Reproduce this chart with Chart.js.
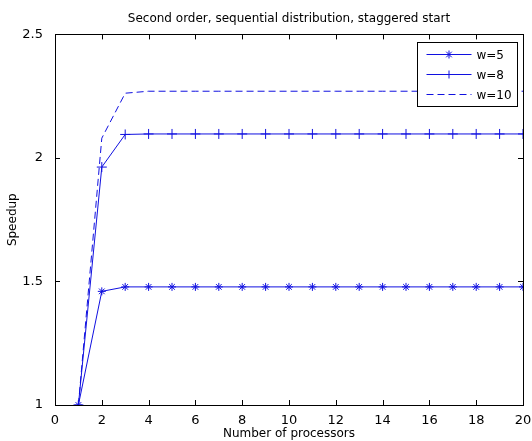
<!DOCTYPE html>
<html>
<head>
<meta charset="utf-8">
<script src="https://cdn.jsdelivr.net/npm/chart.js@4/dist/chart.umd.min.js"></script>
<style>
  html, body { margin: 0; padding: 0; background: #fff; }
  #wrap { width: 532px; height: 441px; }
</style>
</head>
<body>
<div id="wrap"><canvas id="speedup"></canvas></div>
<script>
// Data
const processors = [1, 2, 3, 4, 5, 6, 7, 8, 9, 10, 11, 12, 13, 14, 15, 16, 17, 18, 19, 20];
const w5  = [1, 1.46, 1.478, 1.478, 1.478, 1.478, 1.478, 1.478, 1.478, 1.478, 1.478, 1.478, 1.478, 1.478, 1.478, 1.478, 1.478, 1.478, 1.478, 1.478];
const w8  = [1, 1.963, 2.095, 2.097, 2.097, 2.097, 2.097, 2.097, 2.097, 2.097, 2.097, 2.097, 2.097, 2.097, 2.097, 2.097, 2.097, 2.097, 2.097, 2.097];
const w10 = [1, 2.08, 2.262, 2.27, 2.27, 2.27, 2.27, 2.27, 2.27, 2.27, 2.27, 2.27, 2.27, 2.27, 2.27, 2.27, 2.27, 2.27, 2.27, 2.27];
const xTicks = [0, 2, 4, 6, 8, 10, 12, 14, 16, 18, 20];
const yTicks = [1, 1.5, 2, 2.5];

const lineColor = '#1010e0';
const fontFamily = '"DejaVu Sans", Verdana, sans-serif';

function toPoints(ys) {
    return processors.map(function(x, i) { return { x: x, y: ys[i] }; });
}

// MATLAB-style box with inward ticks, plus the boxed legend
const matlabFrame = {
    id: 'matlabFrame',
    afterDatasetsDraw: function(chart) {
        const ctx = chart.ctx;
        const a = chart.chartArea;
        const xs = chart.scales.x, ys = chart.scales.y;
        ctx.save();
        ctx.strokeStyle = '#000';
        ctx.lineWidth = 1;
        ctx.strokeRect(Math.round(a.left) + 0.5, Math.round(a.top) + 0.5,
                       Math.round(a.right - a.left), Math.round(a.bottom - a.top));
        ctx.beginPath();
        xTicks.forEach(function(v) {
            const px = Math.round(xs.getPixelForValue(v)) + 0.5;
            ctx.moveTo(px, a.bottom); ctx.lineTo(px, a.bottom - 5);
            ctx.moveTo(px, a.top); ctx.lineTo(px, a.top + 5);
        });
        yTicks.forEach(function(v) {
            const py = Math.round(ys.getPixelForValue(v)) + 0.5;
            ctx.moveTo(a.left, py); ctx.lineTo(a.left + 5, py);
            ctx.moveTo(a.right, py); ctx.lineTo(a.right - 5, py);
        });
        ctx.stroke();

        // legend, anchored to the top right corner of the axes
        const bw = 100, bh = 64;
        const bx = Math.round(a.right) - 6 - bw + 0.5, by = Math.round(a.top) + 8.5;
        ctx.fillStyle = '#fff';
        ctx.fillRect(bx, by, bw, bh);
        ctx.strokeStyle = '#000';
        ctx.strokeRect(bx, by, bw, bh);
        ctx.font = '12px ' + fontFamily;
        ctx.textBaseline = 'middle';
        ctx.textAlign = 'left';
        chart.data.datasets.forEach(function(ds, i) {
            const yy = by + 12 + i * 20;
            const x1 = bx + 9, x2 = bx + 54;
            ctx.strokeStyle = lineColor;
            ctx.lineWidth = 1;
            ctx.setLineDash(ds.borderDash || []);
            ctx.beginPath();
            ctx.moveTo(x1, yy); ctx.lineTo(x2, yy);
            ctx.stroke();
            ctx.setLineDash([]);
            if (ds.pointRadius > 0) {
                const cx = (x1 + x2) / 2;
                const r = 4;
                ctx.beginPath();
                ctx.moveTo(cx, yy - r); ctx.lineTo(cx, yy + r);
                ctx.moveTo(cx - r, yy); ctx.lineTo(cx + r, yy);
                if (ds.pointStyle === 'star') {
                    const d = r * 0.7;
                    ctx.moveTo(cx - d, yy - d); ctx.lineTo(cx + d, yy + d);
                    ctx.moveTo(cx - d, yy + d); ctx.lineTo(cx + d, yy - d);
                }
                ctx.stroke();
            }
            ctx.fillStyle = '#000';
            ctx.fillText(ds.label, x2 + 5, yy + 1);
        });
        ctx.restore();
    }
};

new Chart(document.getElementById('speedup').getContext('2d'), {
    type: 'line',
    data: {
        datasets: [
            {
                label: 'w=5',
                data: toPoints(w5),
                borderColor: lineColor,
                backgroundColor: lineColor,
                borderWidth: 1,
                pointStyle: 'star',
                pointRadius: 4,
                pointBorderWidth: 1,
                tension: 0
            },
            {
                label: 'w=8',
                data: toPoints(w8),
                borderColor: lineColor,
                backgroundColor: lineColor,
                borderWidth: 1,
                pointStyle: 'cross',
                pointRadius: 5,
                pointBorderWidth: 1,
                tension: 0
            },
            {
                label: 'w=10',
                data: toPoints(w10),
                borderColor: lineColor,
                borderWidth: 1,
                borderDash: [7, 4],
                pointRadius: 0,
                tension: 0
            }
        ]
    },
    options: {
        responsive: true,
        maintainAspectRatio: false,
        animation: false,
        layout: { padding: { left: 0, right: 9, top: 0, bottom: 0 } },
        plugins: {
            legend: { display: false },
            tooltip: { enabled: false },
            title: {
                display: true,
                fullSize: false,
                text: 'Second order, sequential distribution, staggered start',
                color: '#000',
                font: { family: fontFamily, size: 12, weight: 'normal' },
                padding: { top: 12, bottom: 8 }
            }
        },
        scales: {
            x: {
                type: 'linear',
                min: 0,
                max: 20,
                afterBuildTicks: function(scale) {
                    scale.ticks = xTicks.map(function(v) { return { value: v }; });
                },
                afterFit: function(scale) { scale.height = 36; },
                grid: { display: false },
                border: { display: false },
                ticks: {
                    color: '#000',
                    padding: 0,
                    maxRotation: 0,
                    font: { family: fontFamily, size: 13 }
                },
                title: {
                    display: true,
                    text: 'Number of processors',
                    color: '#000',
                    padding: { top: 0, bottom: 0 },
                    font: { family: fontFamily, size: 12 }
                }
            },
            y: {
                type: 'linear',
                min: 1,
                max: 2.5,
                afterBuildTicks: function(scale) {
                    scale.ticks = yTicks.map(function(v) { return { value: v }; });
                },
                afterFit: function(scale) { scale.width = 55; },
                grid: { display: false },
                border: { display: false },
                ticks: {
                    color: '#000',
                    padding: 4,
                    font: { family: fontFamily, size: 13 },
                    callback: function(v) { return String(v); }
                },
                title: {
                    display: true,
                    text: 'Speedup',
                    color: '#000',
                    padding: { top: 6, bottom: 0 },
                    font: { family: fontFamily, size: 12 }
                }
            }
        }
    },
    plugins: [matlabFrame]
});
</script>
</body>
</html>
